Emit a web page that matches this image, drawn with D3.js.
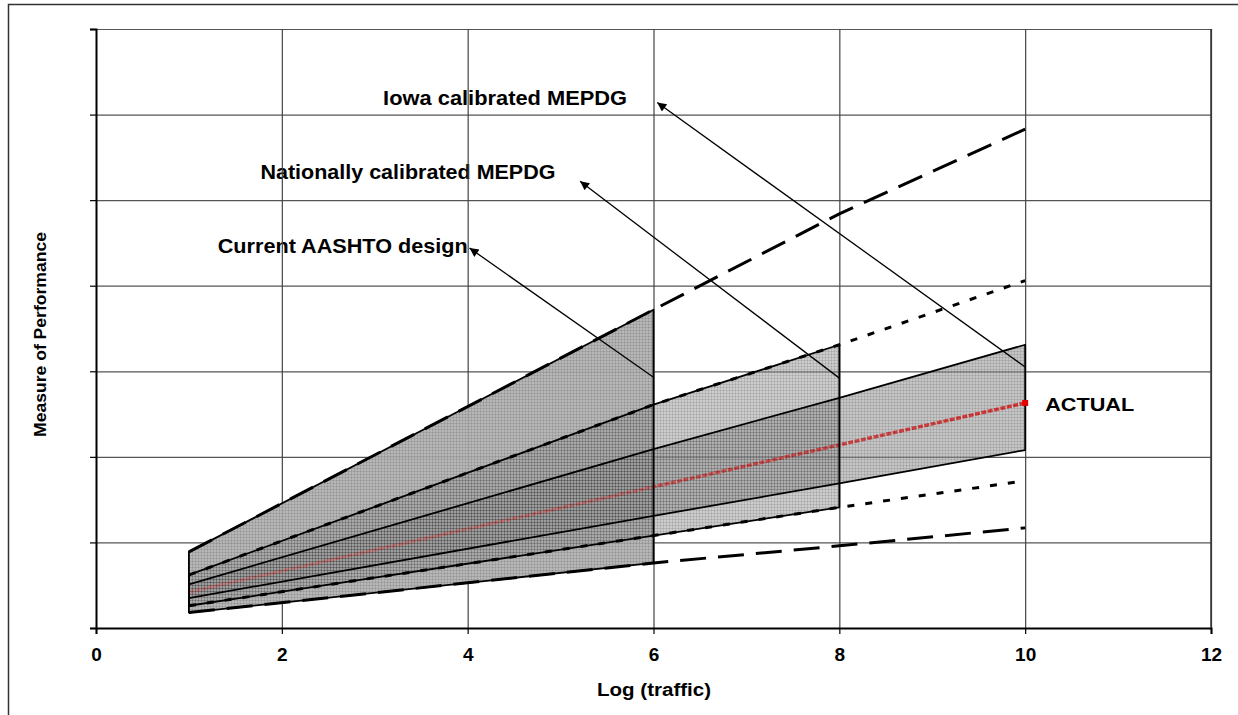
<!DOCTYPE html>
<html>
<head>
<meta charset="utf-8">
<script src="https://cdn.jsdelivr.net/npm/d3@7/dist/d3.min.js"></script>
<style>
    body { margin: 0; background: #fff; }
    text { font-family: "Liberation Sans", Arial, sans-serif; font-weight: bold; fill: #000; }
</style>
</head>
<body>
<div id="container"></div>
<script>
"use strict";

// log(traffic) positions where the curves were read
const X_POINTS = [1, 6, 8, 10];

// measure of performance (arbitrary units, no y labels in the original)
const AASHTO_UPPER = [0.89, 3.72, 4.84, 5.83];
const AASHTO_LOWER = [0.18, 0.76, 0.96, 1.17];
const NATIONAL_UPPER = [0.62, 2.61, 3.31, 4.06];
const NATIONAL_LOWER = [0.26, 1.08, 1.41, 1.72];
const IOWA_UPPER = [0.51, 2.09, 2.69, 3.31];
const IOWA_LOWER = [0.35, 1.31, 1.69, 2.08];
const ACTUAL = [0.42, 1.65, 2.14, 2.63];

const BAND_END = { aashto: 6, national: 8, iowa: 10 };

const X_TICKS = [0, 2, 4, 6, 8, 10, 12];
const Y_GRID = [1, 2, 3, 4, 5, 6, 7];

const LABEL_AASHTO = "Current AASHTO design";
const LABEL_NATIONAL = "Nationally calibrated MEPDG";
const LABEL_IOWA = "Iowa calibrated MEPDG";
const LABEL_ACTUAL = "ACTUAL";

const WIDTH = 1238;
const HEIGHT = 715;
const LEFT = 96, RIGHT = 1211, TOP = 29, BOTTOM = 628;

const SVG = d3.select("#container").append("svg")
    .attr("width", WIDTH)
    .attr("height", HEIGHT);

const xScale = d3.scaleLinear().domain([0, 12]).range([LEFT, RIGHT]);
const yScale = d3.scaleLinear().domain([0, 7]).range([BOTTOM, TOP]);

// annotation layout, in data units
const ANNOTATIONS = [
    { text: LABEL_AASHTO, tx: 1.31, ty: 4.38, len: 250, from: [6, 2.93], to: [4.02, 4.44] },
    { text: LABEL_NATIONAL, tx: 1.77, ty: 5.25, len: 295, from: [8, 2.92], to: [5.21, 5.22] },
    { text: LABEL_IOWA, tx: 3.09, ty: 6.11, len: 244, from: [10, 3.05], to: [6.04, 6.14] }
];

init();

function init() {
    addDefs();
    drawFrame();
    drawTexts();
    drawGrid();
    drawBands();
    drawLines();
    drawArrows();
    drawAxes();
}

function addDefs() {
    const defs = SVG.append("defs");

    const hatch = defs.append("pattern")
        .attr("id", "hatch")
        .attr("patternUnits", "userSpaceOnUse")
        .attr("width", 3)
        .attr("height", 3);
    hatch.append("path")
        .attr("d", "M0,0.5 H3 M0.5,0 V3")
        .attr("stroke", "#000")
        .attr("stroke-opacity", 0.14)
        .attr("stroke-width", 0.7);

    // the actual line looks washed out where the bands overlap most
    const grad = defs.append("linearGradient")
        .attr("id", "actualGrad")
        .attr("gradientUnits", "userSpaceOnUse")
        .attr("x1", xScale(X_POINTS[0])).attr("x2", xScale(X_POINTS[X_POINTS.length - 1]))
        .attr("y1", 0).attr("y2", 0);
    grad.append("stop").attr("offset", 0).attr("stop-color", "#c27c7c");
    grad.append("stop").attr("offset", 0.55).attr("stop-color", "#c46c6c");
    grad.append("stop").attr("offset", 0.56).attr("stop-color", "#cc5252");
    grad.append("stop").attr("offset", 0.78).attr("stop-color", "#cf4646");
    grad.append("stop").attr("offset", 1).attr("stop-color", "#d83636");

    defs.append("marker")
        .attr("id", "arrow")
        .attr("viewBox", "0 0 10 10")
        .attr("refX", 10)
        .attr("refY", 5)
        .attr("markerUnits", "userSpaceOnUse")
        .attr("markerWidth", 13)
        .attr("markerHeight", 9)
        .attr("orient", "auto")
        .append("path")
        .attr("d", "M0,0 L10,5 L0,10 z")
        .attr("fill", "#000");
}

function drawFrame() {
    SVG.append("rect")
        .attr("x", 8.5)
        .attr("y", 4.5)
        .attr("width", WIDTH)
        .attr("height", HEIGHT)
        .attr("fill", "none")
        .attr("stroke", "#333")
        .attr("stroke-width", 1.5);
}

function drawTexts() {
    ANNOTATIONS.forEach(function (a) {
        SVG.append("text")
            .attr("x", xScale(a.tx))
            .attr("y", yScale(a.ty))
            .attr("font-size", 19.5)
            .attr("textLength", a.len)
            .attr("lengthAdjust", "spacingAndGlyphs")
            .text(a.text);
    });

    SVG.append("text")
        .attr("x", xScale(10) + 20)
        .attr("y", yScale(ACTUAL[ACTUAL.length - 1]) + 8)
        .attr("font-size", 19)
        .attr("textLength", 89)
        .attr("lengthAdjust", "spacingAndGlyphs")
        .text(LABEL_ACTUAL);
}

function drawGrid() {
    SVG.append("g")
        .selectAll("line.h")
        .data(Y_GRID)
        .join("line")
        .attr("x1", LEFT).attr("x2", RIGHT)
        .attr("y1", d => yScale(d) + 0.5).attr("y2", d => yScale(d) + 0.5)
        .attr("stroke", "#555")
        .attr("stroke-width", 1.2);

    SVG.append("g")
        .selectAll("line.v")
        .data(X_TICKS.slice(1))
        .join("line")
        .attr("x1", d => xScale(d) + 0.5).attr("x2", d => xScale(d) + 0.5)
        .attr("y1", TOP).attr("y2", BOTTOM)
        .attr("stroke", "#444")
        .attr("stroke-width", 1.2);
}

function bandPoints(upper, lower, endX) {
    const n = X_POINTS.indexOf(endX) + 1;
    const top = X_POINTS.slice(0, n).map((x, i) => [xScale(x), yScale(upper[i])]);
    const bottom = X_POINTS.slice(0, n).map((x, i) => [xScale(x), yScale(lower[i])]).reverse();
    return top.concat(bottom);
}

function drawBands() {
    const bands = [
        { pts: bandPoints(AASHTO_UPPER, AASHTO_LOWER, BAND_END.aashto), fill: "#b3b3b3", op: 0.95 },
        { pts: bandPoints(NATIONAL_UPPER, NATIONAL_LOWER, BAND_END.national), fill: "#9a9a9a", op: 0.5 },
        { pts: bandPoints(IOWA_UPPER, IOWA_LOWER, BAND_END.iowa), fill: "#959595", op: 0.55 }
    ];

    const area = SVG.append("g");
    const line = d3.line().curve(d3.curveLinearClosed);

    bands.forEach(function (b) {
        area.append("path")
            .attr("d", line(b.pts))
            .attr("fill", b.fill)
            .attr("fill-opacity", b.op);
    });

    // red actual line sits under the hatching
    SVG.append("path")
        .attr("d", d3.line().x(d => xScale(d[0])).y(d => yScale(d[1]))(X_POINTS.map((x, i) => [x, ACTUAL[i]])))
        .attr("fill", "none")
        .attr("stroke", "url(#actualGrad)")
        .attr("stroke-width", 3.5)
        .attr("stroke-dasharray", "5,1.5");

    bands.forEach(function (b) {
        SVG.append("path")
            .attr("d", line(b.pts))
            .attr("fill", "url(#hatch)");
    });

    bands.forEach(function (b) {
        SVG.append("path")
            .attr("d", line(b.pts))
            .attr("fill", "none")
            .attr("stroke", "#000")
            .attr("stroke-width", 1.8)
            .attr("stroke-linejoin", "round");
    });
}

function drawLines() {
    const line = d3.line().x(d => xScale(d[0])).y(d => yScale(d[1]));
    const series = [
        { values: AASHTO_UPPER, dash: "26,12", w: 3 },
        { values: AASHTO_LOWER, dash: "26,12", w: 3 },
        { values: NATIONAL_UPPER, dash: "7,11", w: 3 },
        { values: NATIONAL_LOWER, dash: "7,11", w: 3 }
    ];

    series.forEach(function (s) {
        SVG.append("path")
            .attr("d", line(X_POINTS.map((x, i) => [x, s.values[i]])))
            .attr("fill", "none")
            .attr("stroke", "#000")
            .attr("stroke-width", s.w)
            .attr("stroke-dasharray", s.dash);
    });

    const last = ACTUAL.length - 1;
    SVG.append("rect")
        .attr("x", xScale(X_POINTS[last]) - 3)
        .attr("y", yScale(ACTUAL[last]) - 3)
        .attr("width", 6)
        .attr("height", 6)
        .attr("fill", "#e00000");
}

function drawArrows() {
    ANNOTATIONS.forEach(function (a) {
        SVG.append("line")
            .attr("x1", xScale(a.from[0])).attr("y1", yScale(a.from[1]))
            .attr("x2", xScale(a.to[0])).attr("y2", yScale(a.to[1]))
            .attr("stroke", "#000")
            .attr("stroke-width", 1.3)
            .attr("marker-end", "url(#arrow)");
    });
}

function drawAxes() {
    const xaxis = d3.axisBottom(xScale)
        .tickValues(X_TICKS)
        .tickSize(6)
        .tickPadding(14)
        .tickFormat(d3.format("d"));

    const gx = SVG.append("g")
        .attr("transform", `translate(0, ${BOTTOM})`)
        .call(xaxis);
    gx.select(".domain").attr("stroke", "#000").attr("stroke-width", 2);
    gx.selectAll(".tick line").attr("stroke", "#000").attr("stroke-width", 1.2);
    gx.selectAll(".tick text")
        .attr("font-size", 19)
        .attr("font-family", "Liberation Sans, Arial, sans-serif")
        .attr("font-weight", "bold")
        .attr("fill", "#000");

    const yaxis = d3.axisLeft(yScale)
        .tickValues([0].concat(Y_GRID))
        .tickSize(6)
        .tickFormat("");

    const gy = SVG.append("g")
        .attr("transform", `translate(${LEFT}, 0)`)
        .call(yaxis);
    gy.select(".domain").attr("stroke", "#000").attr("stroke-width", 2);
    gy.selectAll(".tick line").attr("stroke", "#000").attr("stroke-width", 1.2);

    SVG.append("line")
        .attr("x1", RIGHT).attr("x2", RIGHT)
        .attr("y1", TOP).attr("y2", BOTTOM)
        .attr("stroke", "#333")
        .attr("stroke-width", 1.5);

    SVG.append("text")
        .attr("x", (LEFT + RIGHT) / 2 + 0.5)
        .attr("y", 696)
        .attr("text-anchor", "middle")
        .attr("font-size", 18)
        .attr("textLength", 114)
        .attr("lengthAdjust", "spacingAndGlyphs")
        .text("Log (traffic)");

    SVG.append("text")
        .attr("transform", `translate(46, ${(TOP + BOTTOM) / 2 + 6}) rotate(-90)`)
        .attr("text-anchor", "middle")
        .attr("font-size", 16.5)
        .attr("textLength", 205)
        .attr("lengthAdjust", "spacingAndGlyphs")
        .text("Measure of Performance");
}
</script>
</body>
</html>
